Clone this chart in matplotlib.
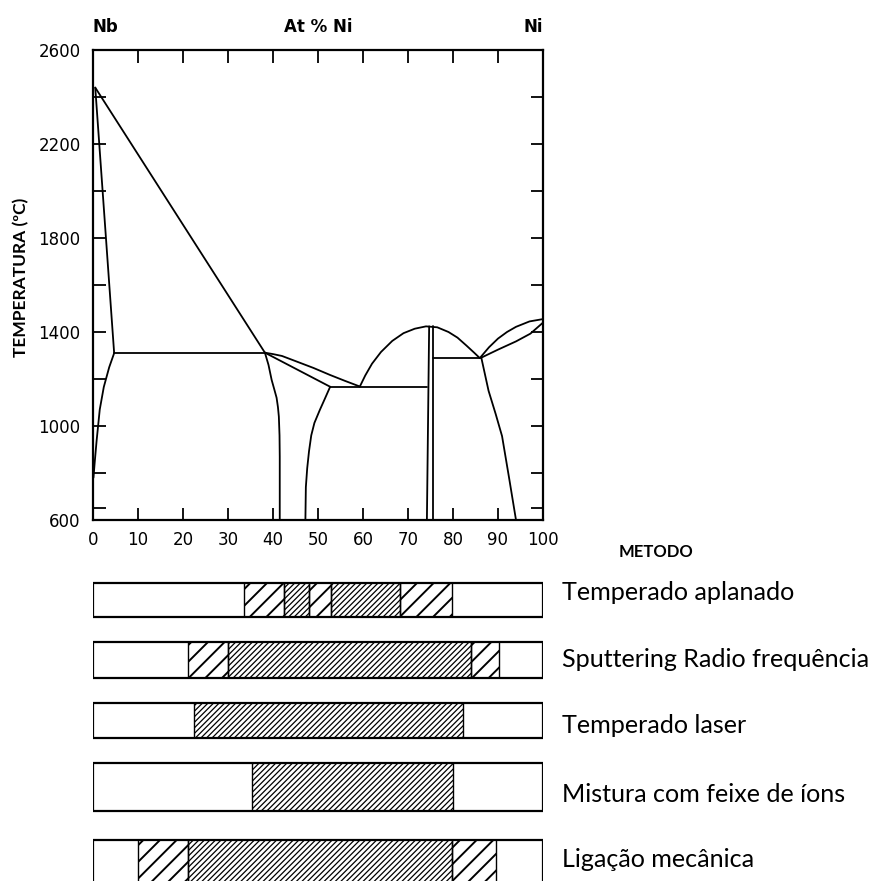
import matplotlib.pyplot as plt
from matplotlib.transforms import blended_transform_factory

# Nb-Ni phase boundaries: composition in at% Ni, temperature in degrees C
liquidus_nb_x = [0.5, 38.2]
liquidus_nb_t = [2440, 1312]
solidus_nb_x = [0.5, 4.7]
solidus_nb_t = [2440, 1310]
solvus_nb_x = [4.7, 3.6, 2.4, 1.5, 0.8, 0.4, 0.1]
solvus_nb_t = [1310, 1250, 1166, 1070, 937, 850, 780]
eutectic_nb_x = [4.7, 38.2]
eutectic_nb_t = [1310, 1310]

mu_left_x = [38.2, 39.0, 39.7, 40.3, 40.8, 41.1, 41.3, 41.45, 41.5, 41.5]
mu_left_t = [1312, 1260, 1196, 1155, 1120, 1080, 1040, 960, 870, 600]
mu_right_x = [52.7, 51.5, 50.4, 49.2, 48.5, 48.0, 47.6, 47.3, 47.2]
mu_right_t = [1167, 1115, 1068, 1013, 960, 892, 820, 740, 600]
mu_solidus_x = [38.2, 52.7]
mu_solidus_t = [1312, 1167]
liquidus_mid_x = [38.2, 40.0, 42.0, 45.3, 49.0, 52.7, 56.0, 59.3]
liquidus_mid_t = [1312, 1306, 1298, 1274, 1247, 1217, 1192, 1168]
eutectic_mid_x = [52.7, 74.2]
eutectic_mid_t = [1167, 1167]

delta_dome_x = [59.3, 60.5, 62.0, 64.0, 66.5, 69.0, 71.5, 74.0, 76.5, 79.0, 81.0, 83.0, 84.7, 85.9]
delta_dome_t = [1168, 1215, 1265, 1315, 1362, 1395, 1414, 1424, 1420, 1400, 1376, 1342, 1312, 1290]
delta_left_x = [74.2, 74.7]
delta_left_t = [600, 1424]
delta_right_x = [75.5, 75.5]
delta_right_t = [600, 1424]
eutectic_ni_x = [75.5, 86.0]
eutectic_ni_t = [1290, 1290]

liquidus_ni_x = [86.0, 88.0, 90.0, 92.0, 94.0, 97.0, 100.0]
liquidus_ni_t = [1290, 1335, 1372, 1400, 1422, 1445, 1455]
solidus_ni_x = [86.2, 90.0, 94.0, 97.2, 100.0]
solidus_ni_t = [1290, 1325, 1360, 1393, 1440]
solvus_ni_x = [86.3, 87.9, 89.5, 90.9, 92.5, 94.0]
solvus_ni_t = [1290, 1150, 1050, 957, 775, 600]

curves = [
    (liquidus_nb_x, liquidus_nb_t), (solidus_nb_x, solidus_nb_t),
    (solvus_nb_x, solvus_nb_t), (eutectic_nb_x, eutectic_nb_t),
    (mu_left_x, mu_left_t), (mu_right_x, mu_right_t),
    (mu_solidus_x, mu_solidus_t), (liquidus_mid_x, liquidus_mid_t),
    (eutectic_mid_x, eutectic_mid_t), (delta_dome_x, delta_dome_t),
    (delta_left_x, delta_left_t), (delta_right_x, delta_right_t),
    (eutectic_ni_x, eutectic_ni_t), (liquidus_ni_x, liquidus_ni_t),
    (solidus_ni_x, solidus_ni_t), (solvus_ni_x, solvus_ni_t),
]

# amorphous composition ranges per processing method (at% Ni)
methods = ['Temperado aplanado', 'Sputtering Radio frequência', 'Temperado laser',
           'Mistura com feixe de íons', 'Ligação mecânica']
flat_quench_edges = [0, 33.6, 42.4, 48.1, 52.8, 68.2, 79.8, 100]
flat_quench_kinds = ['none', 'coarse', 'fine', 'coarse', 'fine', 'coarse', 'none']
sputter_edges = [0, 21.2, 29.9, 83.9, 90.3, 100]
sputter_kinds = ['none', 'coarse', 'fine', 'coarse', 'none']
laser_edges = [0, 22.5, 82.2, 100]
laser_kinds = ['none', 'fine', 'none']
ion_mix_edges = [0, 35.3, 80.1, 100]
ion_mix_kinds = ['none', 'fine', 'none']
mech_alloy_edges = [0, 10.1, 21.2, 79.7, 89.6, 100]
mech_alloy_kinds = ['none', 'coarse', 'fine', 'coarse', 'none']

bar_edges = [flat_quench_edges, sputter_edges, laser_edges, ion_mix_edges, mech_alloy_edges]
bar_kinds = [flat_quench_kinds, sputter_kinds, laser_kinds, ion_mix_kinds, mech_alloy_kinds]

W, H = 874, 881
fig = plt.figure(figsize=(W / 100, H / 100), dpi=100)

# phase diagram
ax = fig.add_axes([93 / W, 1 - 520 / H, 450 / W, 470 / H])
for xs, ts in curves:
    ax.plot(xs, ts, color='black', lw=1.3, solid_joinstyle='round', solid_capstyle='round')

ax.set_xlim(0, 100)
ax.set_ylim(600, 2600)
ax.set_xticks(range(0, 101, 10))
ax.set_yticks(range(600, 2601, 400))
ax.set_yticks([650, 800, 1200, 1600, 2000, 2400], minor=True)
ax.tick_params(which='both', direction='in', length=9, width=1.3,
               top=True, right=True, labelsize=12)
ax.tick_params(axis='x', pad=8)
ax.tick_params(axis='y', pad=9)
for s in ax.spines.values():
    s.set_linewidth(1.6)

top = blended_transform_factory(ax.transData, ax.transAxes)
ax.text(0, 1.049, 'Nb', transform=top, ha='left', va='center',
        fontsize=12, fontweight='bold')
ax.text(50, 1.049, 'At % Ni', transform=top, ha='center', va='center',
        fontsize=12, fontweight='bold')
ax.text(100, 1.049, 'Ni', transform=top, ha='right', va='center',
        fontsize=12, fontweight='bold')

fig.text(21.5 / W, 1 - 277 / H, 'TEMPERATURA (ºC)', rotation=90, ha='center',
         va='center', fontsize=12.5, fontweight='bold', family='Lato')

# method bars, y in pixels from the top of the figure
axb = fig.add_axes([93 / W, 0, 450 / W, 321 / H])
axb.set_xlim(0, 100)
axb.set_ylim(881, 560)
axb.axis('off')

row_y = [600.3, 660, 720.8, 786.7, 864]
row_h = [34, 36.7, 35, 48, 48]
label_base = [600, 666.7, 733, 801.7, 866.7]
hatches = {'coarse': ('//', 'black', 1.4), 'fine': ('//////', 'black', 0.9)}

for y, h, edges, kinds in zip(row_y, row_h, bar_edges, bar_kinds):
    for left, right, kind in zip(edges[:-1], edges[1:], kinds):
        if kind == 'none':
            continue
        hatch, col, hlw = hatches[kind]
        bars = axb.barh(y, right - left, left=left, height=h, color='white',
                        edgecolor=col, hatch=hatch, linewidth=0)
        for p in bars:
            if hasattr(p, 'set_hatch_linewidth'):
                p.set_hatch_linewidth(hlw)
        axb.vlines([left, right], y - h / 2, y + h / 2, color='black', lw=1.0)
    axb.barh(y, 100, left=0, height=h, fill=False, edgecolor='black', linewidth=1.6)

lab = blended_transform_factory(fig.transFigure, axb.transData)
for name, yb in zip(methods, label_base):
    axb.text(562 / W, yb, name, transform=lab, ha='left', va='baseline',
             fontsize=18.1, family='Lato', clip_on=False)

fig.text(656 / W, 1 - 552 / H, 'METODO', ha='center', va='center',
         fontsize=12, fontweight='bold', family='Lato')

fig.savefig('out.png', dpi=100, facecolor='white')
